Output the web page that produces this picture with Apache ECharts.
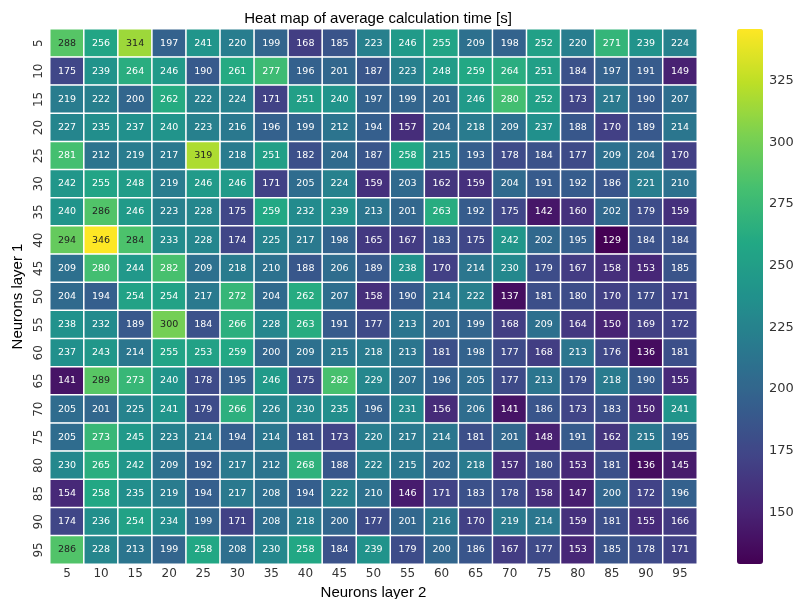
<!DOCTYPE html>
<html>
<head>
<meta charset="utf-8">
<script src="https://cdn.jsdelivr.net/npm/echarts@6/dist/echarts.min.js"></script>
<style>
    html, body { margin: 0; padding: 0; background: #fff; }
    #chart { width: 796px; height: 599px; }
</style>
</head>
<body>
<div id="chart"></div>
<script>
// neurons in layer 2 (columns) and layer 1 (rows)
var layer2 = ['5','10','15','20','25','30','35','40','45','50','55','60','65','70','75','80','85','90','95'];
var layer1 = ['5','10','15','20','25','30','35','40','45','50','55','60','65','70','75','80','85','90','95'];

// average calculation time, one row per layer-1 size
var times = [
    [288,256,314,197,241,220,199,168,185,223,246,255,209,198,252,220,271,239,224],
    [175,239,264,246,190,261,277,196,201,187,223,248,259,264,251,184,197,191,149],
    [219,222,200,262,222,224,171,251,240,197,199,201,246,280,252,173,217,190,207],
    [227,235,237,240,223,216,196,199,212,194,157,204,218,209,237,188,170,189,214],
    [281,212,219,217,319,218,251,182,204,187,258,215,193,178,184,177,209,204,170],
    [242,255,248,219,246,246,171,205,224,159,203,162,159,204,191,192,186,221,210],
    [240,286,246,223,228,175,259,232,239,213,201,263,192,175,142,160,202,179,159],
    [294,346,284,233,228,174,225,217,198,165,167,183,175,242,202,195,129,184,184],
    [209,280,244,282,209,218,210,188,206,189,238,170,214,230,179,167,158,153,185],
    [204,194,254,254,217,272,204,262,207,158,190,214,222,137,181,180,170,177,171],
    [238,232,189,300,184,266,228,263,191,177,213,201,199,168,209,164,150,169,172],
    [237,243,214,255,253,259,200,209,215,218,213,181,198,177,168,213,176,136,181],
    [141,289,273,240,178,195,246,175,282,229,207,196,205,177,213,179,218,190,155],
    [205,201,225,241,179,266,226,230,235,196,231,156,206,141,186,173,183,150,241],
    [205,273,245,223,214,194,214,181,173,220,217,214,181,201,148,191,162,215,195],
    [230,265,242,209,192,217,212,268,188,222,215,202,218,157,180,153,181,136,145],
    [154,258,235,219,194,217,208,194,222,210,146,171,183,178,158,147,200,172,196],
    [174,236,254,234,199,171,208,218,200,177,201,216,170,219,214,159,181,155,166],
    [286,228,213,199,258,208,230,258,184,239,179,200,186,167,177,153,185,178,171]
];

// colorbar ticks
var barTicks = [150, 175, 200, 225, 250, 275, 300, 325];

var viridis = ['#440154','#482475','#414487','#355f8d','#2a788e','#21918c',
               '#22a884','#44bf70','#7ad151','#bddf26','#fde725'];

var vmin = 129, vmax = 346;

var cells = [];
for (var r = 0; r < layer1.length; r++) {
    for (var c = 0; c < layer2.length; c++) {
        var v = times[r][c];
        // dark text on the brightest cells
        cells.push(v >= 283 ? {value: [c, r, v], label: {color: '#222'}} : [c, r, v]);
    }
}

var chart = echarts.init(document.getElementById('chart'));

var tickFont = {fontFamily: 'DejaVu Sans', fontSize: 12, color: '#333'};

var option = {
    backgroundColor: '#fff',
    animation: false,
    title: {
        text: 'Heat map of average calculation time [s]',
        left: 373,
        textAlign: 'center',
        top: 6,
        textStyle: {fontFamily: 'Liberation Sans', fontSize: 15, fontWeight: 'normal', color: '#000'}
    },
    grid: [
        {left: 50, right: 99, top: 29, bottom: 35, outerBoundsMode: 'none'},
        {left: 737, width: 26, top: 29, bottom: 35, outerBoundsMode: 'none'}
    ],
    xAxis: [
        {
            type: 'category',
            data: layer2,
            gridIndex: 0,
            name: 'Neurons layer 2',
            nameLocation: 'middle',
            nameGap: 20,
            nameTextStyle: {fontFamily: 'Liberation Sans', fontSize: 15, color: '#000'},
            axisLine: {show: false},
            axisTick: {alignWithLabel: true, inside: true, length: 3, lineStyle: {color: '#333'}},
            axisLabel: Object.assign({margin: 4}, tickFont),
            splitLine: {show: false}
        },
        {
            type: 'value',
            gridIndex: 1,
            show: false
        }
    ],
    yAxis: [
        {
            type: 'category',
            data: layer1,
            inverse: true,
            gridIndex: 0,
            name: 'Neurons layer 1',
            nameLocation: 'middle',
            nameGap: 24,
            nameTextStyle: {fontFamily: 'Liberation Sans', fontSize: 15, color: '#000'},
            axisLine: {show: false},
            axisTick: {alignWithLabel: true, inside: true, length: 3, lineStyle: {color: '#333'}},
            axisLabel: Object.assign({margin: 5, rotate: 90}, tickFont),
            splitLine: {show: false}
        },
        {
            type: 'value',
            gridIndex: 1,
            position: 'right',
            min: vmin,
            max: vmax,
            axisLine: {show: false},
            axisTick: {show: true, length: 3, lineStyle: {color: '#333'}, customValues: barTicks},
            axisLabel: {margin: 6, customValues: barTicks, fontFamily: 'DejaVu Sans', fontSize: 13, color: '#333'},
            splitLine: {show: false}
        }
    ],
    visualMap: {
        type: 'continuous',
        seriesIndex: 0,
        min: vmin,
        max: vmax,
        calculable: false,
        text: null,
        showLabel: false,
        left: 737,
        top: 29,
        itemWidth: 26,
        itemHeight: 535,
        padding: 0,
        inRange: {color: viridis}
    },
    series: [
        {
            type: 'heatmap',
            xAxisIndex: 0,
            yAxisIndex: 0,
            data: cells,
            itemStyle: {borderColor: '#fff', borderWidth: 1.5},
            label: {
                show: true,
                fontFamily: 'DejaVu Sans',
                fontSize: 9.5,
                color: '#fff',
                formatter: function (p) { return p.value[2]; }
            }
        },
        {
            type: 'scatter',
            xAxisIndex: 1,
            yAxisIndex: 1,
            data: []
        }
    ]
};

chart.setOption(option);
</script>
</body>
</html>
